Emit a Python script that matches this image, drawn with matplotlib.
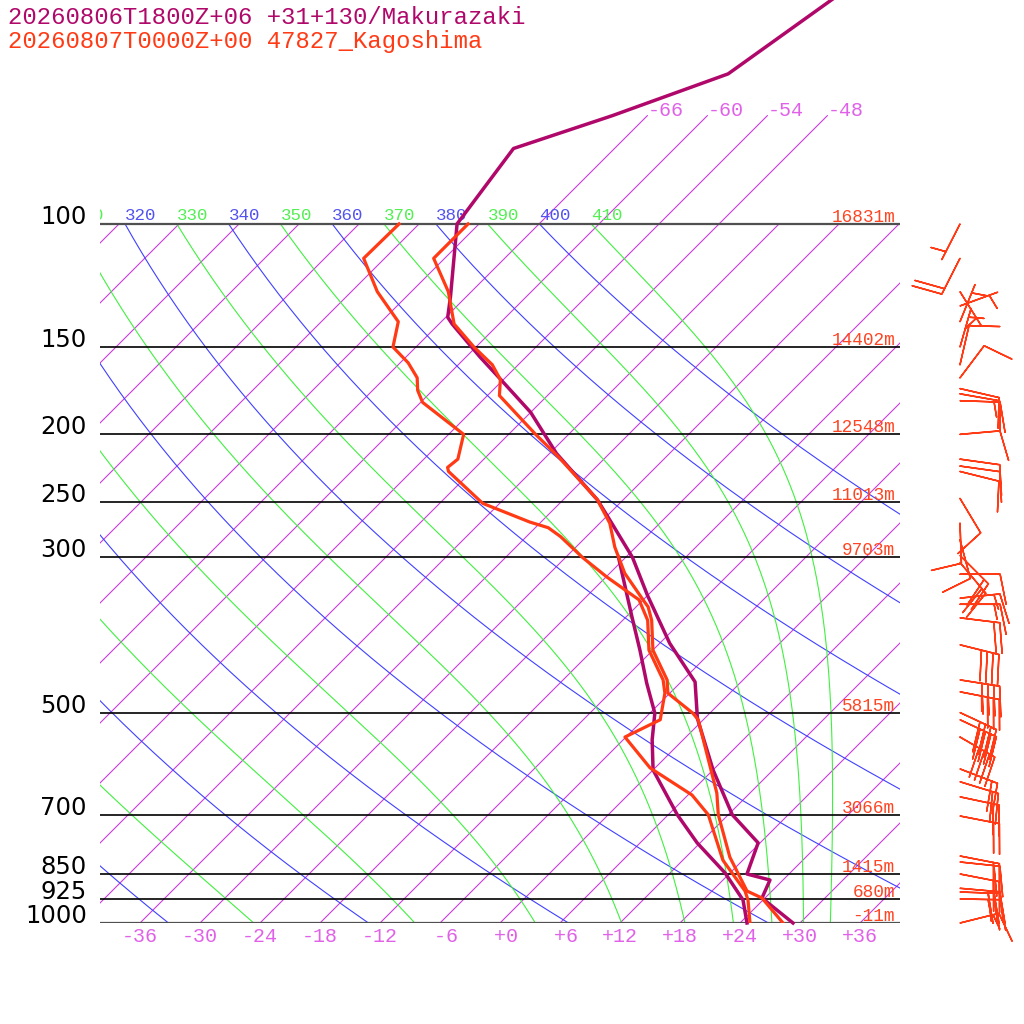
import numpy as np
import matplotlib
matplotlib.use('Agg')
import matplotlib.pyplot as plt

# Makurazaki forecast (purple): temperature and dewpoint, hPa / degC
mak_p = [1000, 921, 868, 851, 768, 700, 604, 510, 452, 398, 340, 300, 268, 248,
         213, 186, 166, 155, 139, 136, 127, 100, 78, 70, 61, 50, 40]
mak_t = [29.3, 23.7, 22.7, 19.8, 17.8, 12.4, 6.0, -0.7, -4.6, -11.0, -18.0, -23.3, -28.8, -32.6,
         -41.3, -48.0, -54.6, -58.6, -64.7, -65.8, -67.6, -74.2, -76.1, -69.5, -62.1, -59.7, -57.0]
mak_td_p = [1000, 927, 848, 768, 700, 604, 547, 501, 454, 407, 365, 300]
mak_td = [24.7, 22.0, 17.5, 11.7, 6.9, 0.0, -3.1, -5.5, -9.3, -13.3, -17.4, -24.7]

# Kagoshima sounding (red)
kag_p = [1000, 921, 900, 805, 700, 652, 512, 501, 469, 449, 407, 369, 353, 345,
         316, 290, 268, 248, 216, 200, 176, 167, 159, 150, 139, 125, 112, 100]
kag_t = [28.3, 23.7, 21.5, 16.4, 11.0, 8.7, -0.5, -1.7, -6.2, -7.6, -12.0, -15.1, -16.8, -18.0,
         -22.5, -26.1, -29.0, -32.6, -40.6, -45.3, -52.8, -54.3, -56.6, -60.2, -64.5, -68.3, -73.1, -73.1]
kag_td_p = [1000, 927, 900, 813, 700, 656, 600, 542, 512, 469, 449, 407, 369, 345, 320, 300,
            280, 272, 267, 251, 226, 223, 217, 200, 180, 173, 166, 158, 150, 138, 125, 112, 100]
kag_td = [25.0, 22.5, 21.3, 16.0, 10.0, 6.4, -0.5, -6.1, -4.3, -6.5, -8.0, -12.4, -15.5, -18.4, -23.9, -28.3,
          -32.6, -34.7, -37.1, -43.7, -50.3, -50.8, -50.6, -52.5, -59.8, -61.5, -62.8, -65.2, -68.3, -70.3, -75.4, -80.1, -80.0]

# Kagoshima winds: pressure, direction (deg), speed (kt)
wind_p = [100, 112, 125, 131, 138, 150, 159, 166, 172, 175, 179, 200, 217, 222, 226, 247, 268, 283,
          298, 305, 317, 343, 350, 366, 400, 449, 467, 500, 512, 542, 602, 628, 660, 703, 802, 818,
          851, 892, 903, 924, 1000]
wind_dir = [207, 207, 148, 70, 22, 16, 13, 37, 103, 100, 92, 85, 98, 98, 104, 149, 178, 165,
            135, 140, 90, 84, 90, 97, 104, 99, 101, 115, 115, 120, 111, 107, 102, 101, 101, 96,
            101, 95, 92, 91, 76]
wind_spd = [5, 20, 5, 5, 5, 5, 10, 10, 10, 10, 15, 10, 10, 10, 10, 10, 10, 10,
            20, 20, 10, 15, 15, 20, 40, 40, 35, 40, 40, 40, 20, 20, 20, 20, 20, 20,
            20, 30, 30, 25, 15]

# isobars with Kagoshima heights
iso_p = [100, 150, 200, 250, 300, 500, 700, 850, 925, 1000]
iso_hgt = ['16831m', '14402m', '12548m', '11013m', '9703m', '5815m', '3066m', '1415m', '680m', '-11m']

dry_theta = list(range(240, 401, 20))
moist_theta = list(range(250, 411, 20))
isotherms = list(range(-108, 37, 6))
top_isotherms = [-66, -60, -54, -48]

PURPLE = '#b0086a'
RED = '#ff3a14'
MAG = '#c93ddc'
BLUE = '#4040ff'
GREEN = '#40f040'
MONO = 'Liberation Mono'

K = 30.36  # skew in degC per unit ln(p)


def skew(t, p):
    return np.asarray(t, float) + K * np.log(1000.0 / np.asarray(p, float))


def moist_curve(theta, plevs):
    Rd, Cp, Lv, eps = 287.04, 1005.7, 2.501e6, 0.622

    def f(T, p):
        es = 6.112 * np.exp(17.67 * (T - 273.15) / (T - 29.65))
        rs = eps * es / (p - es)
        return (Rd * T + Lv * rs) / (p * (Cp + Lv * Lv * rs * eps / (Rd * T * T)))

    T = theta * (plevs[0] / 1000.0) ** 0.2857
    out = [T]
    for p0, p1 in zip(plevs[:-1], plevs[1:]):
        h = p1 - p0
        k1 = f(T, p0)
        k2 = f(T + h * k1 / 2, p0 + h / 2)
        k3 = f(T + h * k2 / 2, p0 + h / 2)
        k4 = f(T + h * k3, p1)
        T = T + h * (k1 + 2 * k2 + 2 * k3 + k4) / 6
        out.append(T)
    return np.array(out) - 273.15


def theta_label(x, txt, color):
    # labels sit on the 100 hPa line, clipped at the left edge of the diagram
    if x < -44:
        return
    ax.annotate(txt, (x, 100), xytext=(0, 4), textcoords='offset pixels',
                ha='left', va='baseline', color=color, fontsize=12.6, family=MONO,
                clip_on=True, annotation_clip=False)


fig = plt.figure(figsize=(10.24, 10.24), dpi=100)
ax = fig.add_axes([100 / 1024, 1 - 923 / 1024, 800 / 1024, 923 / 1024])
ax.set_yscale('log')
ax.set_xlim(-40, 40)
ax.set_ylim(1000, 1000 * np.exp(-923 / 303.6))
ax.axis('off')

plevs = np.geomspace(100, 1000, 300)

# isotherms
for t in isotherms:
    ptop = 70 if t in top_isotherms else 100
    ax.plot(skew([t, t], [1000, ptop]), [1000, ptop], color=MAG, lw=0.8, zorder=1)
    if t in top_isotherms:
        ax.text(skew(t, 70), 70, '%+d' % t, ha='left', va='baseline', color='#e060e8',
                fontsize=14.4, family=MONO)
    if -40 < t < 40:
        ax.annotate('%3s' % ('%+d' % t), (skew(t, 1000), 1000), xytext=(0, -14),
                    textcoords='offset pixels', ha='center', va='center',
                    color='#e060e8', fontsize=14.4, family=MONO, annotation_clip=False)

# dry adiabats
for th in dry_theta:
    tc = th * (plevs / 1000.0) ** 0.2857 - 273.15
    ax.plot(skew(tc, plevs), plevs, color=BLUE, lw=0.8, zorder=1)
    theta_label(float(skew(tc[0], 100)), str(th), '#5252f0')

# moist adiabats
for th in moist_theta:
    tc = moist_curve(th, plevs)
    ax.plot(skew(tc, plevs), plevs, color=GREEN, lw=0.8, zorder=1)
    theta_label(float(skew(tc[0], 100)), str(th), '#52f052')

# isobars
for p, h in zip(iso_p, iso_hgt):
    edge = p in (100, 1000)
    ax.plot([-40, 40], [p, p], color='#505050' if edge else 'black', lw=1.6 if edge else 1.2, zorder=2)
    ax.text(-41.3, p, str(p), ha='right', va='baseline', fontsize=17.5, color='black')
    ax.annotate(h, (39.5, p), xytext=(0, 2), textcoords='offset pixels', ha='right',
                va='baseline', color='#ff4422', fontsize=12.8, family=MONO)

# profiles
ax.plot(skew(mak_td, mak_td_p), mak_td_p, color=PURPLE, lw=2.5, zorder=4, clip_on=False)
ax.plot(skew(mak_t, mak_p), mak_p, color=PURPLE, lw=2.5, zorder=4, clip_on=False)
ax.plot(skew(kag_td, kag_td_p), kag_td_p, color=RED, lw=2.3, zorder=5)
ax.plot(skew(kag_t, kag_p), kag_p, color=RED, lw=2.3, zorder=5)

# wind barbs (staff about 40 px)
d = np.radians(wind_dir)
u = -np.array(wind_spd) * np.sin(d)
v = -np.array(wind_spd) * np.cos(d)
ax.barbs(np.full(len(wind_p), 46.0), wind_p, u, v, length=7.6, color=RED, linewidth=1.1,
         sizes=dict(spacing=0.15, height=0.75, width=0.3), clip_on=False, zorder=6)

fig.text(8 / 1024, 1 - 24 / 1024, '20260806T1800Z+06 +31+130/Makurazaki', color=PURPLE,
         fontsize=17.2, family=MONO, va='baseline')
fig.text(8 / 1024, 1 - 48 / 1024, '20260807T0000Z+00 47827_Kagoshima', color=RED,
         fontsize=17.2, family=MONO, va='baseline')

fig.savefig('out.png', dpi=100, facecolor='white')
